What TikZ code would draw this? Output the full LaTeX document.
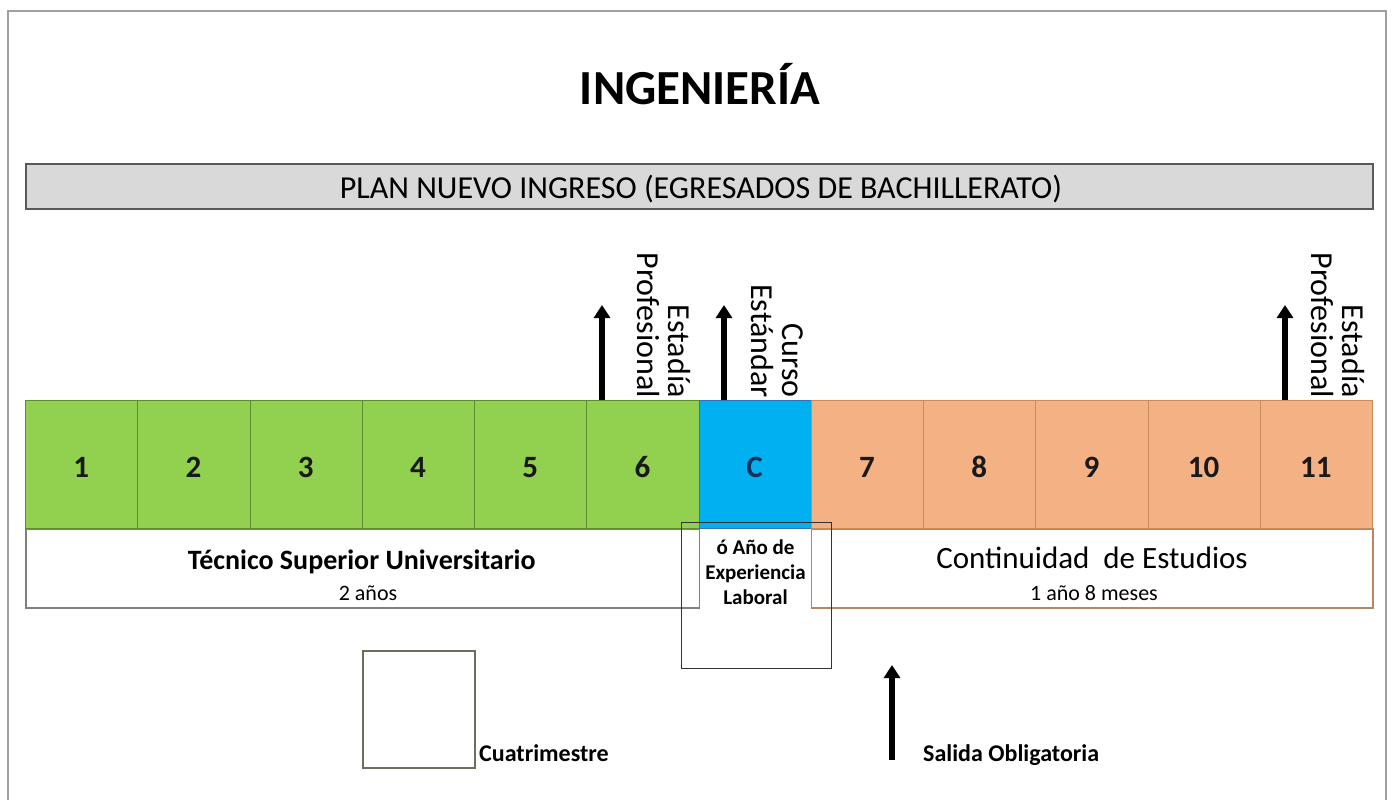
\documentclass[tikz,border=0pt]{standalone}
\usepackage{fontspec}
\setmainfont{Carlito}
\usetikzlibrary{arrows.meta}
\definecolor{sgreen}{HTML}{92D050}
\definecolor{sgreenln}{HTML}{5E8C31}
\definecolor{sblue}{HTML}{00B0F0}
\definecolor{sblueln}{HTML}{2E75B6}
\definecolor{sorange}{HTML}{F4B183}
\definecolor{sorangeln}{HTML}{C98A5E}
\definecolor{hdrfill}{HTML}{D9D9D9}
\definecolor{framegray}{HTML}{A0A0A0}
\definecolor{cnavy}{HTML}{14305A}
\definecolor{legln}{HTML}{6E6E5E}
\begin{document}
\begin{tikzpicture}[x=1pt,y=-1pt,
  semb/.style={minimum width=112.25pt, minimum height=128pt, inner sep=0pt,
    anchor=north west, line width=1.2pt, text depth=0pt},
  gbox/.style={semb, fill=sgreen, draw=sgreenln},
  cbox/.style={semb, fill=sblue, draw=sblueln},
  obox/.style={semb, fill=sorange, draw=sorangeln},
  numlab/.style={inner sep=0pt, anchor=base, font=\fontsize{31}{31}\selectfont\bfseries, text=black!90},
  lowbox/.style={fill=white, minimum height=79pt, inner sep=0pt, anchor=north west, line width=1.5pt},
  rotlab/.style={rotate=-90, anchor=east, align=right, inner sep=0pt,
    font=\fontsize{32}{31}\selectfont},
  exitarr/.style={line width=6.5pt, -{Triangle[width=16pt,length=13pt]}},
  lbl/.style={inner sep=0pt, anchor=base}
]
\useasboundingbox (0,0) rectangle (1393,800);
\fill[white] (0,0) rectangle (1393,800);
% frame
\draw[framegray, line width=2pt] (8,800) -- (8,11) -- (1386,11) -- (1386,800);

% title
\node[lbl, font=\fontsize{49}{49}\selectfont\bfseries] (title) at (700,105) {INGENIERÍA};

% header bar
\node[draw=black!65, fill=hdrfill, line width=1.5pt, minimum width=1347pt, minimum height=45pt,
  inner sep=0pt, anchor=north west] (hdr) at (25,163) {};
\node[lbl, font=\fontsize{32}{32}\selectfont] (hdrtext) at (701,198) {PLAN NUEVO INGRESO (EGRESADOS DE BACHILLERATO)};

% lower label boxes
\node[lowbox, draw=black!50, minimum width=673.5pt] (tsu) at (25,528) {};
\node[lowbox, draw=sorangeln!70!gray, minimum width=561.25pt] (cont) at (810.75,528) {};

% semester boxes
\foreach \i in {1,...,6} {
  \node[gbox] (b\i) at ({25+(\i-1)*112.25},400) {};
  \node[numlab] (n\i) at ({81.125+(\i-1)*112.25},477) {\i};
}
\node[cbox] (bC) at (698.5,400) {};
\node[numlab, text=cnavy] (nC) at (754.6,477) {C};
\foreach \i/\k in {7/0,8/1,9/2,10/3,11/4} {
  \node[obox] (b\i) at ({810.75+\k*112.25},400) {};
  \node[numlab] (n\i) at ({866.9+\k*112.25},477) {\i};
}

% lower texts
\node[lbl, font=\fontsize{28}{28}\selectfont\bfseries] (tsut) at (361.75,569) {Técnico Superior Universitario};
\node[lbl, font=\fontsize{22}{22}\selectfont] (tsuy) at (368,600) {2 años};
\node[lbl, font=\fontsize{31}{31}\selectfont] (contt) at (1092,568) {Continuidad\ \ de Estudios};
\node[lbl, font=\fontsize{22}{22}\selectfont] (conty) at (1094,600) {1 año 8 meses};

% C box overlay
\node[draw=black!80, line width=1.2pt, minimum width=150pt, minimum height=146pt, inner sep=0pt,
  anchor=north west] (cover) at (681,522) {};
\node[align=center, inner sep=0pt, anchor=north, font=\fontsize{21}{25}\selectfont\bfseries] (ctext) at (755.5,540)
  {ó Año de\\Experiencia\\Laboral};

% exit arrows
\coordinate (a1s) at (602,400); \coordinate (a1e) at (602,305);
\coordinate (a2s) at (724,400); \coordinate (a2e) at (724,305);
\coordinate (a3s) at (1285,400); \coordinate (a3e) at (1285,305);
\draw[exitarr] (a1s) -- (a1e);
\draw[exitarr] (a2s) -- (a2e);
\draw[exitarr] (a3s) -- (a3e);

% rotated labels
\node[rotlab] (r1) at (664,398) {Estadía\\Profesional};
\node[rotlab] (r2) at (777,398) {Curso\\Estándar};
\node[rotlab] (r3) at (1338,398) {Estadía\\Profesional};

% legend
\node[draw=legln, line width=1.5pt, minimum width=112pt, minimum height=117pt, inner sep=0pt,
  anchor=north west] (legsq) at (362,650) {};
\node[inner sep=0pt, anchor=base west, font=\fontsize{24}{24}\selectfont\bfseries] (legsqt) at (479,761) {Cuatrimestre};
\coordinate (l1s) at (892,760); \coordinate (l1e) at (892,665);
\draw[exitarr] (l1s) -- (l1e);
\node[inner sep=0pt, anchor=base west, font=\fontsize{24}{24}\selectfont\bfseries] (legart) at (923,761) {Salida Obligatoria};
\end{tikzpicture}
\end{document}
